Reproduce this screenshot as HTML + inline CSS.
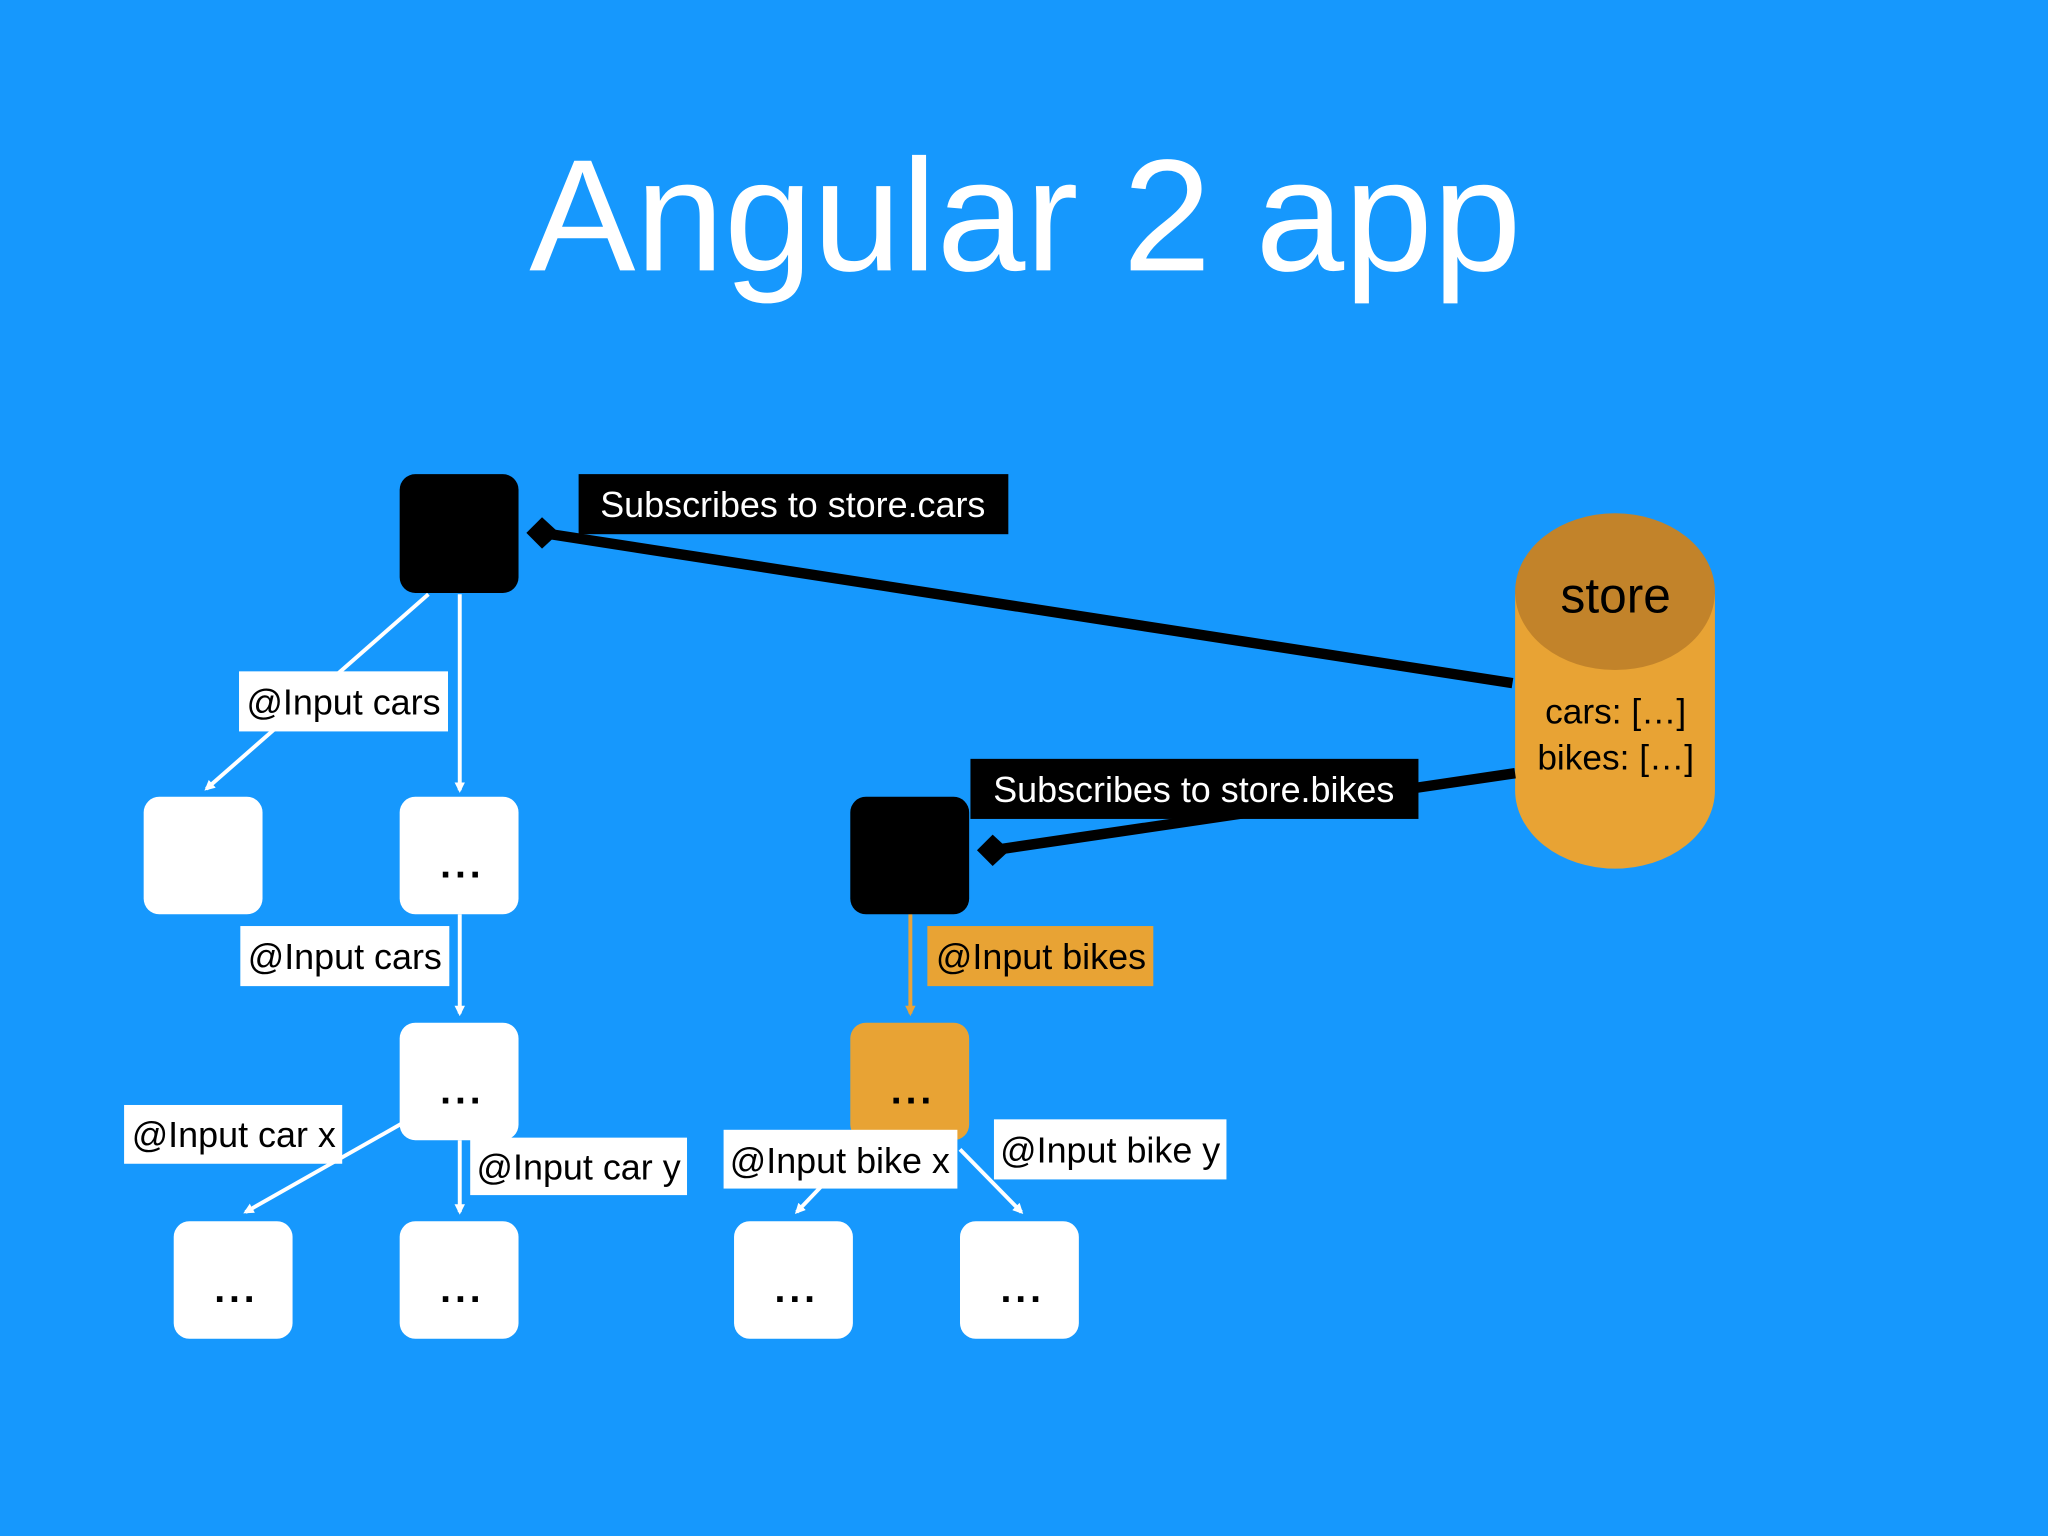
<!DOCTYPE html>
<html><head><style>html,body{margin:0;padding:0;background:#1698fd;}svg{display:block}</style></head><body>
<svg width="2048" height="1536" viewBox="0 0 1568 1176" xmlns="http://www.w3.org/2000/svg" font-family="Liberation Sans, sans-serif">
<defs>
<marker id="aw" markerWidth="8" markerHeight="8" refX="6" refY="4" orient="auto" markerUnits="userSpaceOnUse"><path d="M0,0 L8,4 L0,8 z" fill="#fff"/></marker>
<marker id="ao" markerWidth="8" markerHeight="8" refX="6" refY="4" orient="auto" markerUnits="userSpaceOnUse"><path d="M0,0 L8,4 L0,8 z" fill="#e8a33a"/></marker>
</defs>
<rect width="1568" height="1176" fill="#1698fd"/>
<text x="785" y="207" font-size="122" fill="#fff" text-anchor="middle">Angular 2 app</text>
<g stroke="#fff" stroke-width="3" fill="none">
<line x1="328" y1="455" x2="158" y2="604" marker-end="url(#aw)"/>
<line x1="352" y1="455" x2="352" y2="605" marker-end="url(#aw)"/>
<line x1="352" y1="700" x2="352" y2="776" marker-end="url(#aw)"/>
<line x1="308" y1="860" x2="188" y2="928" marker-end="url(#aw)"/>
<line x1="352" y1="873" x2="352" y2="928" marker-end="url(#aw)"/>
<line x1="632" y1="905" x2="610" y2="928" marker-end="url(#aw)"/>
<line x1="735" y1="880" x2="782" y2="928" marker-end="url(#aw)"/>
</g>
<line x1="697" y1="700" x2="697" y2="776" stroke="#e8a33a" stroke-width="3" marker-end="url(#ao)"/>
<path d="M1160,455 L1160,605 A76.5,60 0 0 0 1313,605 L1313,455 Z" fill="#e8a334"/>
<ellipse cx="1236.5" cy="453" rx="76.5" ry="60" fill="#c2832a"/>
<text x="1237" y="469" font-size="38" text-anchor="middle" fill="#000">store</text>
<text x="1237" y="554" font-size="27" text-anchor="middle" fill="#000">cars: […]</text>
<text x="1237" y="589" font-size="27" text-anchor="middle" fill="#000">bikes: […]</text>
<line x1="415" y1="408" x2="1158" y2="523" stroke="#000" stroke-width="8"/>
<line x1="760" y1="651" x2="1160" y2="592" stroke="#000" stroke-width="8"/>
<path d="M403,408 L415,396 L428,408 L415,420 Z" fill="#000"/>
<path d="M748,651 L760,639 L773,651 L760,663 Z" fill="#000"/>
<g fill="#fff">
<rect x="110" y="610" width="91" height="90" rx="12"/>
<rect x="306" y="610" width="91" height="90" rx="12"/>
<rect x="306" y="783" width="91" height="90" rx="12"/>
<rect x="133" y="935" width="91" height="90" rx="12"/>
<rect x="306" y="935" width="91" height="90" rx="12"/>
<rect x="562" y="935" width="91" height="90" rx="12"/>
<rect x="735" y="935" width="91" height="90" rx="12"/>
</g>
<rect x="306" y="363" width="91" height="91" rx="12" fill="#000"/>
<rect x="651" y="610" width="91" height="90" rx="12" fill="#000"/>
<rect x="651" y="783" width="91" height="90" rx="12" fill="#e8a334"/>
<g font-size="30" font-weight="bold" text-anchor="middle" fill="#000" letter-spacing="3">
<text x="354" y="672">...</text>
<text x="354" y="845">...</text>
<text x="181" y="997">...</text>
<text x="354" y="997">...</text>
<text x="610" y="997">...</text>
<text x="783" y="997">...</text>
<text x="699" y="845">...</text>
</g>
<rect x="443" y="363" width="329" height="46" fill="#000"/>
<text x="607" y="396" font-size="27.5" fill="#fff" text-anchor="middle">Subscribes to store.cars</text>
<rect x="743" y="581" width="343" height="46" fill="#000"/>
<text x="914" y="614" font-size="27.5" fill="#fff" text-anchor="middle">Subscribes to store.bikes</text>
<g font-size="27.5" fill="#000" text-anchor="middle">
<rect x="183" y="514" width="160" height="46" fill="#fff"/><text x="263" y="547">@Input cars</text>
<rect x="184" y="709" width="160" height="46" fill="#fff"/><text x="264" y="742">@Input cars</text>
<rect x="95" y="846" width="167" height="45" fill="#fff"/><text x="179" y="878">@Input car x</text>
<rect x="360" y="871" width="166" height="44" fill="#fff"/><text x="443" y="903">@Input car y</text>
<rect x="554" y="865" width="179" height="45" fill="#fff"/><text x="643" y="898">@Input bike x</text>
<rect x="761" y="857" width="178" height="46" fill="#fff"/><text x="850" y="890">@Input bike y</text>
<rect x="710" y="709" width="173" height="46" fill="#e8a334"/><text x="797" y="742">@Input bikes</text>
</g>
</svg>
</body></html>
